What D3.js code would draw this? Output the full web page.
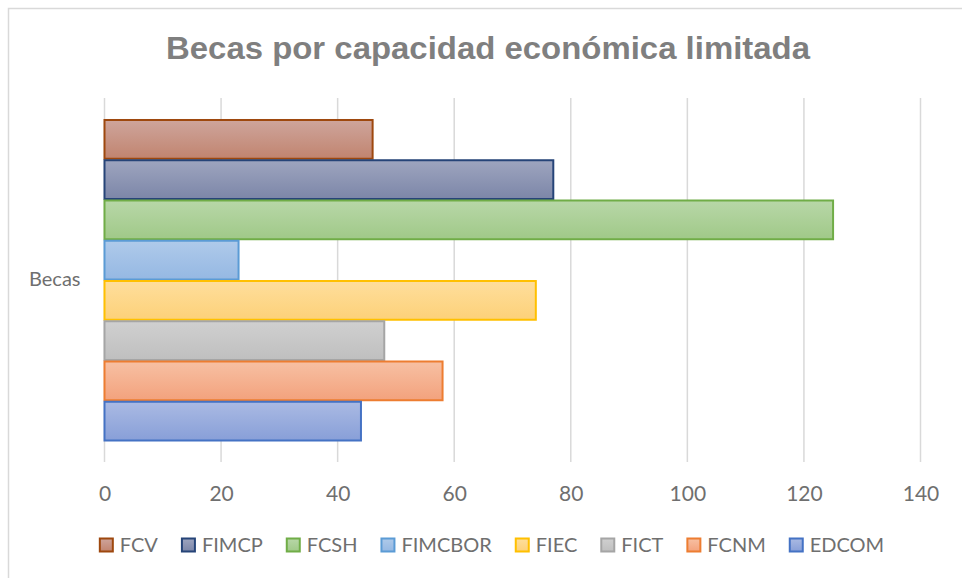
<!DOCTYPE html>
<html>
<head>
<meta charset="utf-8">
<script src="https://cdn.jsdelivr.net/npm/d3@7"></script>
<style>
  html, body { margin: 0; padding: 0; background: #fff; }
  svg { display: block; }
</style>
</head>
<body>
<svg id="chart" width="962" height="578"></svg>
<script>
const title = "Becas por capacidad económica limitada";
const category = "Becas";
const seriesNames = ["FCV", "FIMCP", "FCSH", "FIMCBOR", "FIEC", "FICT", "FCNM", "EDCOM"];
const seriesValues = [46, 77, 125, 23, 74, 48, 58, 44];
const xTicks = [0, 20, 40, 60, 80, 100, 120, 140];
const strokeColors = ["#9E480E", "#264478", "#70AD47", "#5B9BD5", "#FFC000", "#A5A5A5", "#ED7D31", "#4472C4"];
const fillTop = ["#cea59c", "#9ea5bf", "#b8d7a8", "#afcaea", "#fede9c", "#d0d0d0", "#f7c0a3", "#aabae3"];
const fillBottom = ["#c1846f", "#7c86a8", "#a0c988", "#95b8e3", "#fdd179", "#bfbfbf", "#f3a27d", "#889fd8"];
const legendOrder = ["FCV", "FIMCP", "FCSH", "FIMCBOR", "FIEC", "FICT", "FCNM", "EDCOM"];

const svg = d3.select("#chart");
const font = "Lato, 'Open Sans', sans-serif";

// frame
svg.append("rect").attr("x", 8.5).attr("y", 8.5).attr("width", 1000).attr("height", 600)
  .attr("fill", "#fff").attr("stroke", "#d9d9d9").attr("stroke-width", 1.5);

// gradients
const defs = svg.append("defs");
seriesNames.forEach((s, i) => {
  const g = defs.append("linearGradient").attr("id", "g" + i)
    .attr("x1", 0).attr("y1", 0).attr("x2", 0).attr("y2", 1);
  g.append("stop").attr("offset", "0%").attr("stop-color", fillTop[i]);
  g.append("stop").attr("offset", "100%").attr("stop-color", fillBottom[i]);
});

const plot = { left: 104.5, right: 920.5, top: 98, bottom: 462 };
const x = d3.scaleLinear().domain([0, 140]).range([plot.left, plot.right]);
const y0 = d3.scaleBand().domain([category]).range([plot.top, plot.bottom]).paddingOuter(0.0652).paddingInner(0);
const y1 = d3.scaleBand().domain(seriesNames).range([0, y0.bandwidth()]).padding(0);

// title
svg.append("text").attr("x", 488).attr("y", 59).attr("text-anchor", "middle")
  .attr("font-family", "'Liberation Sans', Arial, sans-serif").attr("font-weight", "bold")
  .attr("font-size", 32).attr("fill", "#7f7f7f")
  .attr("textLength", 644).attr("lengthAdjust", "spacingAndGlyphs")
  .text(title);

// gridlines
svg.append("g").selectAll("line").data(xTicks).join("line")
  .attr("x1", d => x(d)).attr("x2", d => x(d))
  .attr("y1", plot.top).attr("y2", plot.bottom)
  .attr("stroke", "#d9d9d9").attr("stroke-width", 1.5);

// x axis labels
const xAxis = d3.axisBottom(x).tickValues(xTicks).tickSize(0).tickPadding(0);
const gx = svg.append("g").attr("transform", `translate(0, ${plot.bottom})`).call(xAxis);
gx.select(".domain").remove();
gx.selectAll("text").attr("font-family", font).attr("font-size", 21).attr("fill", "#6f6f6f")
  .attr("dy", null).attr("y", 39);

// y axis category label
const yAxis = d3.axisLeft(y0).tickSize(0).tickPadding(24);
const gy = svg.append("g").attr("transform", `translate(${plot.left}, 0)`).call(yAxis);
gy.select(".domain").remove();
gy.selectAll("text").attr("font-family", font).attr("font-size", 20).attr("fill", "#6f6f6f");

// bars
const data = seriesNames.map((s, i) => ({ s, v: seriesValues[i], i }));
svg.append("g").selectAll("rect").data(data).join("rect")
  .attr("x", x(0))
  .attr("y", d => y0(category) + y1(d.s) + 1)
  .attr("width", d => x(d.v) - x(0))
  .attr("height", y1.bandwidth() - 1.5)
  .attr("fill", d => `url(#g${d.i})`)
  .attr("stroke", d => strokeColors[d.i]).attr("stroke-width", 2);

// legend
const lg = svg.append("g").attr("transform", "translate(0, 545)");
const items = lg.selectAll("g").data(legendOrder).join("g");
items.append("rect").attr("x", 0).attr("y", -6.5).attr("width", 13).attr("height", 13)
  .attr("fill", d => `url(#g${seriesNames.indexOf(d)})`)
  .attr("stroke", d => strokeColors[seriesNames.indexOf(d)]).attr("stroke-width", 2);
items.append("text").attr("x", 20).attr("y", 0).attr("dy", "0.35em")
  .attr("font-family", font).attr("font-size", 20).attr("fill", "#6f6f6f").text(d => d);
const widths = [];
items.each(function() { widths.push(20 + this.querySelector("text").getComputedTextLength()); });
const gap = 24;
const total = d3.sum(widths) + gap * (widths.length - 1);
let cx = 492 - total / 2;
items.attr("transform", (d, i) => { const t = `translate(${cx},0)`; cx += widths[i] + gap; return t; });
</script>
</body>
</html>
